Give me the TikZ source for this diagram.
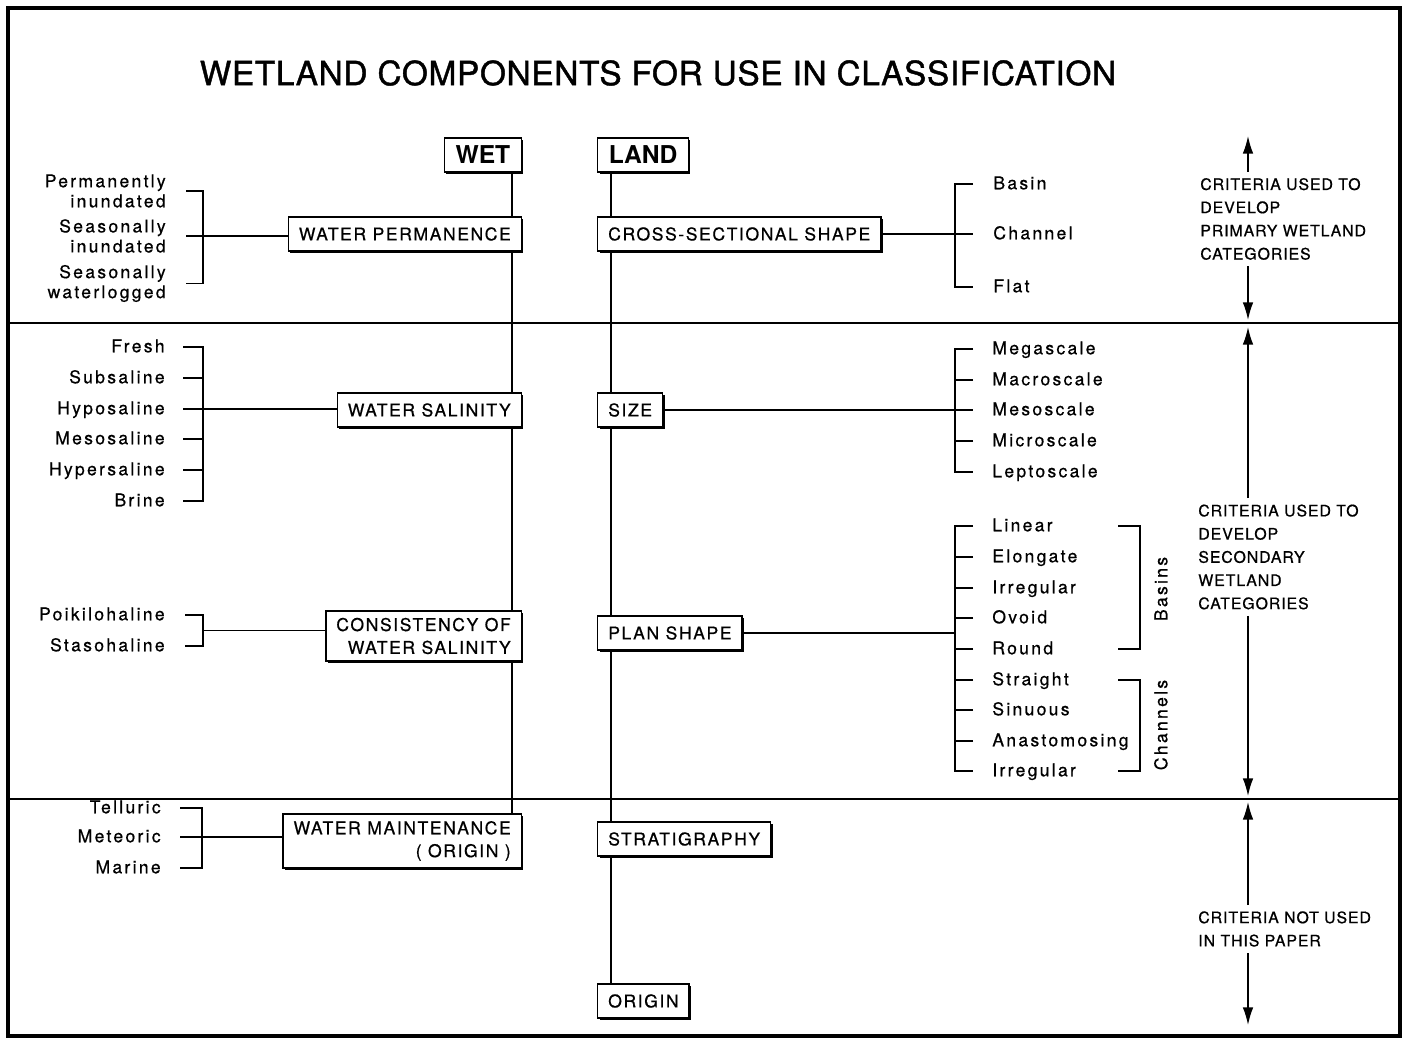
\documentclass[tikz,border=0pt]{standalone}
\usepackage{fontspec}
\setmainfont{TeX Gyre Heros}
\newfontfamily\itemfamily[LetterSpace=13,FakeBold=0.6]{TeX Gyre Heros}
\newfontfamily\boxfamily[LetterSpace=9,FakeBold=0.6]{TeX Gyre Heros}
\newfontfamily\notefamily[LetterSpace=6,FakeBold=0.8]{TeX Gyre Heros}
\newfontfamily\titlefamily[LetterSpace=2,FakeBold=1.2]{TeX Gyre Heros}
\usetikzlibrary{arrows.meta,shadows}

\tikzset{
    >={Latex[length=10pt,width=6pt]},
    link/.style={line width=0.8pt},
    item/.style={inner sep=0pt, text height=6pt, text depth=0pt, font=\itemfamily\fontsize{10pt}{11.5pt}\selectfont},
    itemtwo/.style={inner sep=0pt, align=right, font=\itemfamily\fontsize{10pt}{11.4pt}\selectfont},
    crit/.style={draw, fill=white, line width=0.8pt, inner xsep=6pt, inner ysep=4pt, minimum height=0.68cm,
        font=\boxfamily\fontsize{10pt}{13pt}\selectfont,
        drop shadow={shadow xshift=1.1pt, shadow yshift=-1.1pt, opacity=1, fill=black}},
    head/.style={crit, inner xsep=6.3pt, font=\bfseries\fontsize{14pt}{16pt}\selectfont},
    note/.style={align=left, inner sep=0pt, font=\notefamily\fontsize{9pt}{13.2pt}\selectfont},
}

\begin{document}
\begin{tikzpicture}
        \useasboundingbox (0,0) rectangle (28.12,20.84);

        % Frame
        \draw[line width=2.3pt] (0.16,0.12) rectangle (28.0,20.68);
        \draw[line width=1.6pt] (0.16,14.38) -- (28.0,14.38);
        \draw[line width=1.6pt] (0.16,4.86) -- (28.0,4.86);
        \node (title) at (13.16,19.38) {\titlefamily\fontsize{19pt}{22pt}\selectfont WETLAND COMPONENTS FOR USE IN CLASSIFICATION};

        % Heads
        \node[head, anchor=east] (wet) at (10.44,17.74) {WET};
        \node[head, anchor=west] (land) at (11.94,17.74) {LAND};

        % Wet criteria
        \node[crit, anchor=east] (perm) at (10.44,16.16) {WATER PERMANENCE};
        \node[crit, anchor=east] (salin) at (10.44,12.64) {WATER SALINITY};
        \node[crit, anchor=east, align=right] (consist) at (10.44,8.12) {CONSISTENCY OF\\WATER SALINITY};
        \node[crit, anchor=east, align=right] (maint) at (10.44,4.02) {WATER MAINTENANCE\\( ORIGIN )};

        % Land criteria
        \node[crit, anchor=west] (cross) at (11.94,16.16) {CROSS-SECTIONAL SHAPE};
        \node[crit, anchor=west] (size) at (11.94,12.64) {SIZE};
        \node[crit, anchor=west] (plan) at (11.94,8.18) {PLAN SHAPE};
        \node[crit, anchor=west] (strat) at (11.94,4.06) {STRATIGRAPHY};
        \node[crit, anchor=west] (origin) at (11.94,0.82) {ORIGIN};

        % Spines
        \coordinate (wspine) at (10.24,0);
        \coordinate (lspine) at (12.22,0);
        \draw[link] (wet.south -| wspine) -- (perm.north -| wspine);
        \draw[link] (perm.south -| wspine) -- (salin.north -| wspine);
        \draw[link] (salin.south -| wspine) -- (consist.north -| wspine);
        \draw[link] (consist.south -| wspine) -- (maint.north -| wspine);
        \draw[link] (land.south -| lspine) -- (cross.north -| lspine);
        \draw[link] (cross.south -| lspine) -- (size.north -| lspine);
        \draw[link] (size.south -| lspine) -- (plan.north -| lspine);
        \draw[link] (plan.south -| lspine) -- (strat.north -| lspine);
        \draw[link] (strat.south -| lspine) -- (origin.north -| lspine);

        % Water permanence
        \node[itemtwo, anchor=east] (pinun) at (3.32,17.02) {Permanently\\inundated};
        \node[itemtwo, anchor=east] (sinun) at (3.32,16.12) {Seasonally\\inundated};
        \node[itemtwo, anchor=east] (swlog) at (3.32,15.17) {Seasonally\\waterlogged};
        \draw[link] ([xshift=4mm]pinun.east) -| ([xshift=7.4mm]swlog.east) -- ([xshift=4mm]swlog.east);
        \draw[link] ([xshift=4mm]sinun.east) -- (sinun.east -| perm.west);

        % Water salinity
        \node[item, anchor=east] (fresh) at (3.30,13.90) {Fresh};
        \node[item, anchor=east] (subsal) at (3.30,13.28) {Subsaline};
        \node[item, anchor=east] (hyposal) at (3.30,12.66) {Hyposaline};
        \node[item, anchor=east] (mesosal) at (3.30,12.06) {Mesosaline};
        \node[item, anchor=east] (hypersal) at (3.30,11.44) {Hypersaline};
        \node[item, anchor=east] (brine) at (3.30,10.82) {Brine};
        \draw[link] ([xshift=3.6mm]fresh.east) -| ([xshift=7.6mm]brine.east) -- ([xshift=3.6mm]brine.east);
        \draw[link] ([xshift=3.6mm]subsal.east) -- ++(0.4,0);
        \draw[link] ([xshift=3.6mm]hyposal.east) -- (hyposal.east -| salin.west);
        \draw[link] ([xshift=3.6mm]mesosal.east) -- ++(0.4,0);
        \draw[link] ([xshift=3.6mm]hypersal.east) -- ++(0.4,0);

        % Consistency
        \node[item, anchor=east] (poik) at (3.30,8.54) {Poikilohaline};
        \node[item, anchor=east] (staso) at (3.30,7.92) {Stasohaline};
        \coordinate (pmid) at (4.06,8.23);
        \draw[link] ([xshift=4mm]poik.east) -| ([xshift=7.6mm]staso.east) -- ([xshift=4mm]staso.east);
        \draw[link] (pmid) -- (pmid -| consist.west);

        % Maintenance
        \node[item, anchor=east] (tell) at (3.22,4.68) {Telluric};
        \node[item, anchor=east] (meteor) at (3.22,4.10) {Meteoric};
        \node[item, anchor=east] (marine) at (3.22,3.48) {Marine};
        \draw[link] ([xshift=3.8mm]tell.east) -| ([xshift=8.2mm]marine.east) -- ([xshift=3.8mm]marine.east);
        \draw[link] ([xshift=3.8mm]meteor.east) -- (meteor.east -| maint.west);

        % Cross-sectional shape
        \node[item, anchor=west] (basin) at (19.86,17.16) {Basin};
        \node[item, anchor=west] (channel) at (19.86,16.16) {Channel};
        \node[item, anchor=west] (flat) at (19.86,15.10) {Flat};
        \draw[link] ([xshift=-4mm]basin.west) -| ([xshift=-7.6mm]flat.west) -- ([xshift=-4mm]flat.west);
        \draw[link] (cross.east) -- ([xshift=-4mm]channel.west);

        % Size
        \node[item, anchor=west] (megas) at (19.84,13.86) {Megascale};
        \node[item, anchor=west] (macros) at (19.84,13.24) {Macroscale};
        \node[item, anchor=west] (mesos) at (19.84,12.64) {Mesoscale};
        \node[item, anchor=west] (micros) at (19.84,12.02) {Microscale};
        \node[item, anchor=west] (leptos) at (19.84,11.40) {Leptoscale};
        \draw[link] ([xshift=-3.8mm]megas.west) -| ([xshift=-7.4mm]leptos.west) -- ([xshift=-3.8mm]leptos.west);
        \draw[link] ([xshift=-3.8mm]macros.west) -- ++(-0.36,0);
        \draw[link] (size.east) -- ([xshift=-3.8mm]mesos.west);
        \draw[link] ([xshift=-3.8mm]micros.west) -- ++(-0.36,0);

        % Plan shape
        \node[item, anchor=west] (linear) at (19.84,10.32) {Linear};
        \node[item, anchor=west] (elong) at (19.84,9.70) {Elongate};
        \node[item, anchor=west] (irreg) at (19.84,9.08) {Irregular};
        \node[item, anchor=west] (ovoid) at (19.84,8.48) {Ovoid};
        \node[item, anchor=west] (round) at (19.84,7.86) {Round};
        \node[item, anchor=west] (straight) at (19.84,7.24) {Straight};
        \node[item, anchor=west] (sinuous) at (19.84,6.64) {Sinuous};
        \node[item, anchor=west] (anast) at (19.84,6.02) {Anastomosing};
        \node[item, anchor=west] (irregb) at (19.84,5.42) {Irregular};
        \coordinate (pbr) at (19.10,0);
        \draw[link] ([xshift=-3.8mm]linear.west) -| (irregb.west -| pbr) -- ([xshift=-3.8mm]irregb.west);
        \draw[link] ([xshift=-3.8mm]elong.west) -- (elong.west -| pbr);
        \draw[link] ([xshift=-3.8mm]irreg.west) -- (irreg.west -| pbr);
        \draw[link] ([xshift=-3.8mm]ovoid.west) -- (ovoid.west -| pbr);
        \draw[link] ([xshift=-3.8mm]round.west) -- (round.west -| pbr);
        \draw[link] ([xshift=-3.8mm]straight.west) -- (straight.west -| pbr);
        \draw[link] ([xshift=-3.8mm]sinuous.west) -- (sinuous.west -| pbr);
        \draw[link] ([xshift=-3.8mm]anast.west) -- (anast.west -| pbr);
        \draw[link] (plan.east) -- (plan.east -| pbr);

        % Basins and channels
        \coordinate (gs) at (22.36,0);
        \coordinate (ge) at (22.80,0);
        \draw[link] (linear -| gs) -| (round -| ge) -- (round -| gs);
        \draw[link] (straight -| gs) -| (irregb -| ge) -- (irregb -| gs);
        \node[item, rotate=90] (basins) at (23.24,9.06) {Basins};
        \node[item, rotate=90] (chans) at (23.24,6.34) {Channels};

        % Criteria notes
        \node[note, anchor=west] (primary) at (24.0,16.46) {CRITERIA USED TO\\DEVELOP\\PRIMARY WETLAND\\CATEGORIES};
        \node[note, anchor=west] (second) at (23.96,9.70) {CRITERIA USED TO\\DEVELOP\\SECONDARY\\WETLAND\\CATEGORIES};
        \node[note, anchor=west] (notused) at (23.96,2.26) {CRITERIA NOT USED\\IN THIS PAPER};

        % Arrows
        \coordinate (acol) at (24.96,0);
        \coordinate (ptop) at (24.96,18.12);
        \coordinate (pbot) at (24.96,14.44);
        \coordinate (stop) at (24.96,14.30);
        \coordinate (sbot) at (24.96,4.92);
        \coordinate (ntop) at (24.96,4.80);
        \coordinate (nbot) at (24.96,0.34);
        \draw[->, link] ([yshift=1.2mm]primary.north -| acol) -- (ptop);
        \draw[->, link] ([yshift=-1.2mm]primary.south -| acol) -- (pbot);
        \draw[->, link] ([yshift=1.2mm]second.north -| acol) -- (stop);
        \draw[->, link] ([yshift=-1.2mm]second.south -| acol) -- (sbot);
        \draw[->, link] ([yshift=1.2mm]notused.north -| acol) -- (ntop);
        \draw[->, link] ([yshift=-1.2mm]notused.south -| acol) -- (nbot);
    \end{tikzpicture}
\end{document}
